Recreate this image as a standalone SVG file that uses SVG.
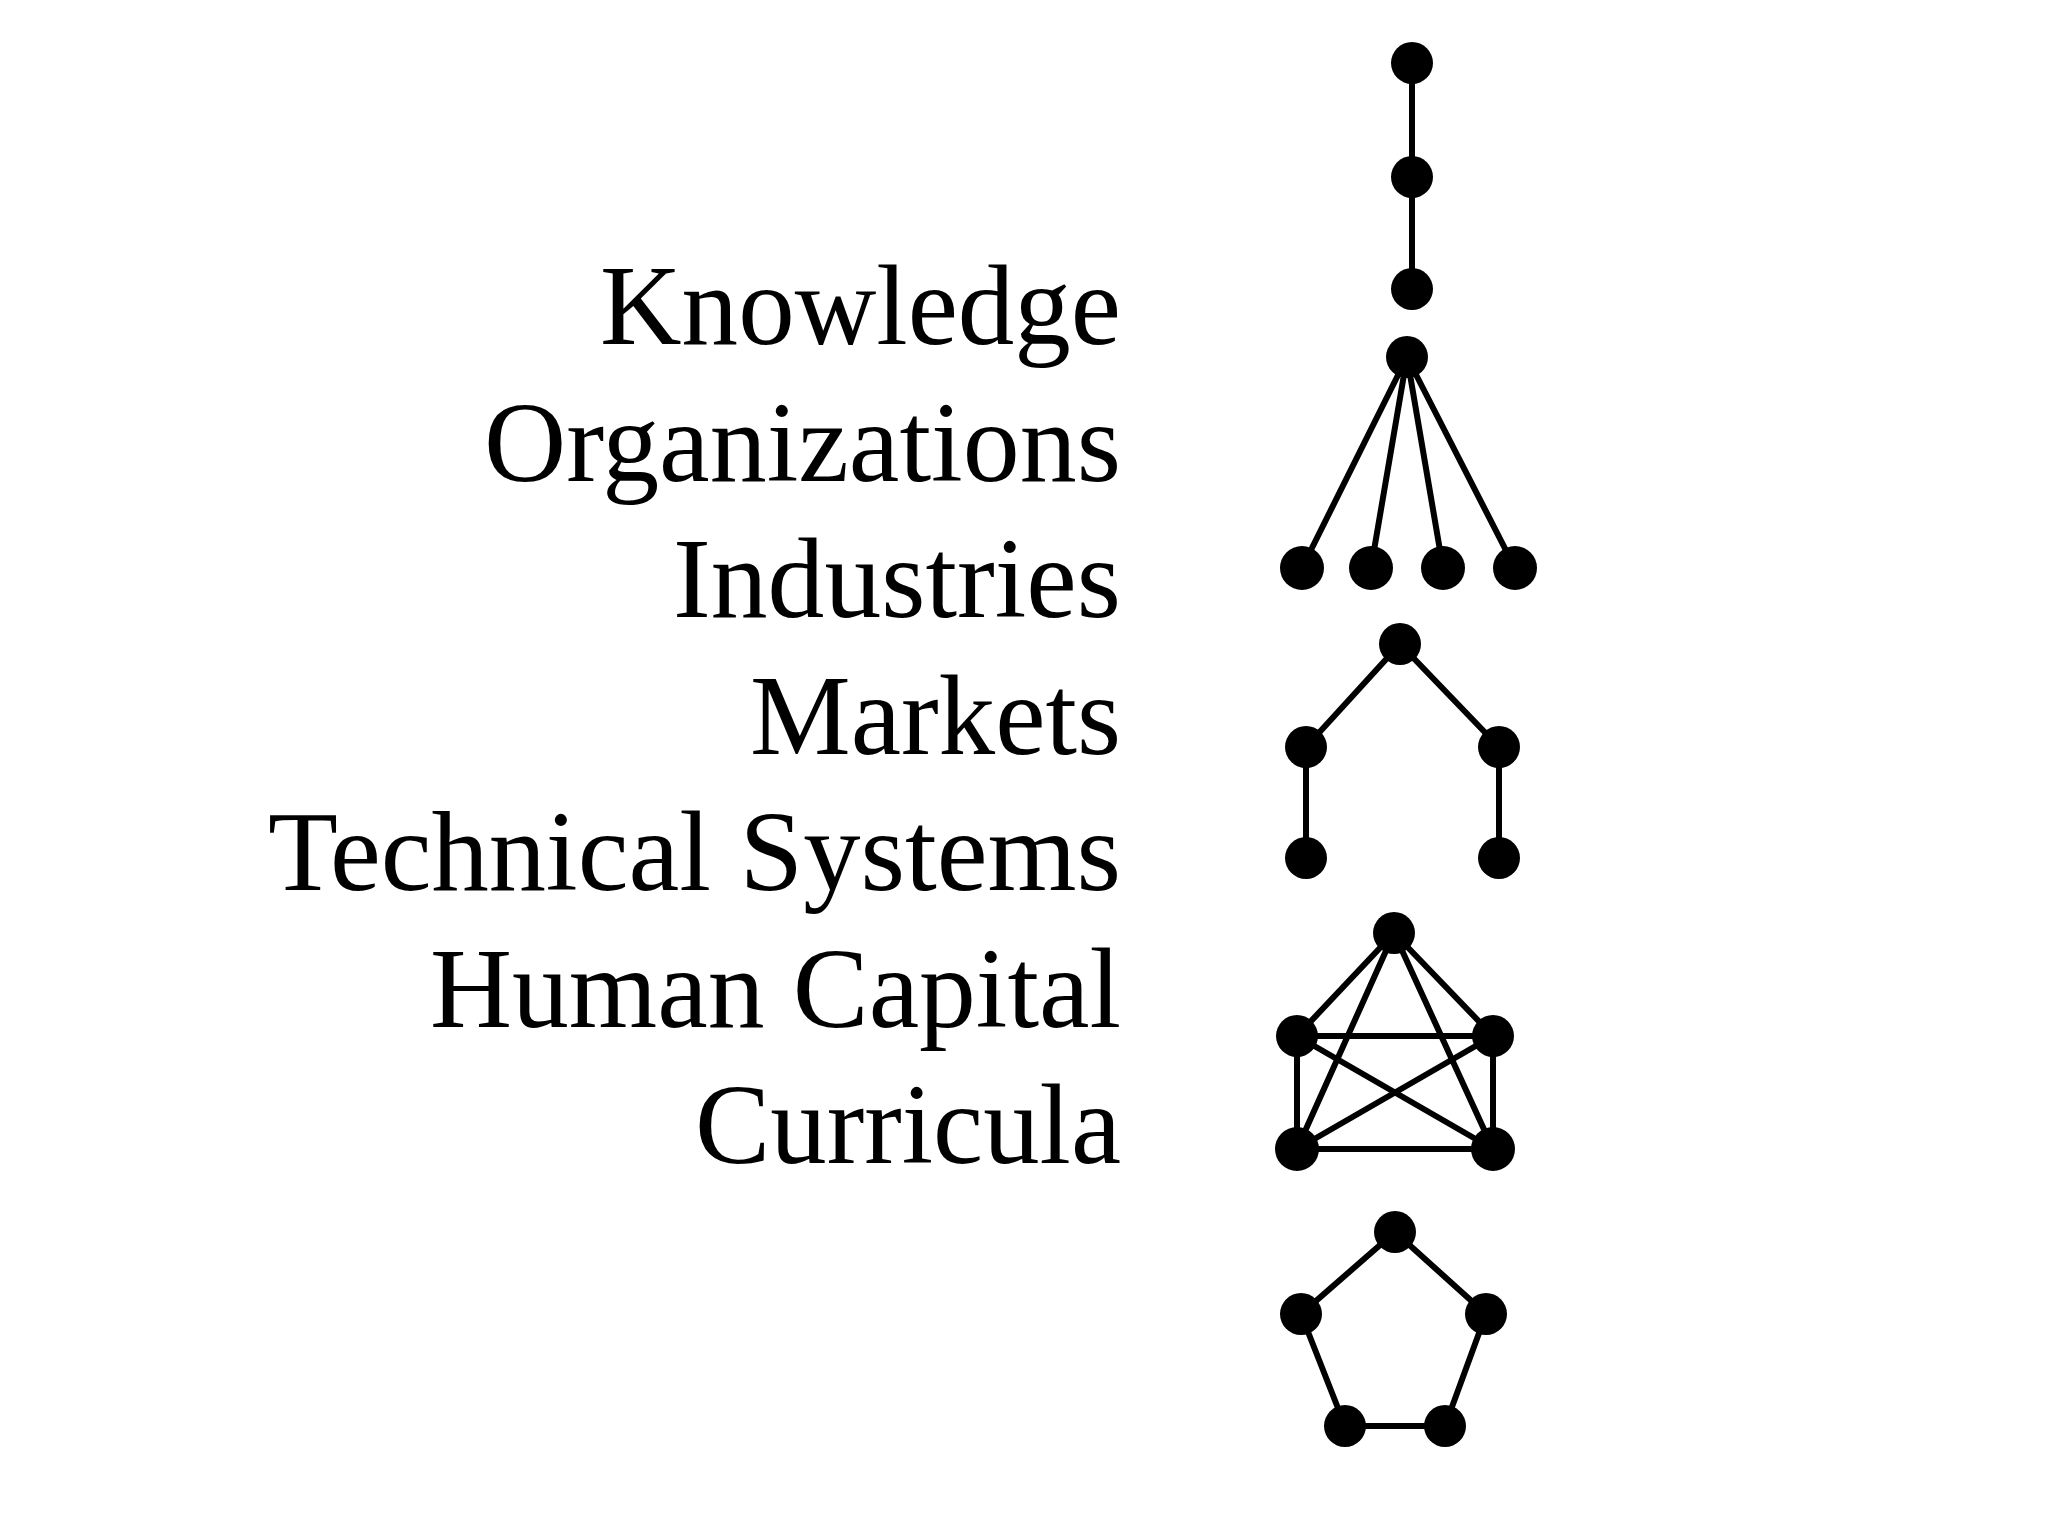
<svg xmlns="http://www.w3.org/2000/svg" width="2048" height="1536" viewBox="0 0 2048 1536">
<style>
.lbl{font-family:"Liberation Serif","Times New Roman",serif;font-size:115px;fill:#000;text-anchor:end}
.e{stroke:#000;stroke-width:6;stroke-linecap:round;fill:none}
.n{fill:#000}
</style>
<rect width="2048" height="1536" fill="#fff"/>
<g id="labels">
<text class="lbl" x="1121" y="344" textLength="521" lengthAdjust="spacingAndGlyphs">Knowledge</text>
<text class="lbl" x="1121" y="481" textLength="637" lengthAdjust="spacingAndGlyphs">Organizations</text>
<text class="lbl" x="1121" y="617" textLength="448" lengthAdjust="spacingAndGlyphs">Industries</text>
<text class="lbl" x="1121" y="754" textLength="371" lengthAdjust="spacingAndGlyphs">Markets</text>
<text class="lbl" x="1121" y="890" textLength="853" lengthAdjust="spacingAndGlyphs">Technical Systems</text>
<text class="lbl" x="1121" y="1027" textLength="691" lengthAdjust="spacingAndGlyphs">Human Capital</text>
<text class="lbl" x="1121" y="1163" textLength="426" lengthAdjust="spacingAndGlyphs">Curricula</text>
</g>
<g id="connectors">
<line class="e" x1="1412" y1="63" x2="1412" y2="177"/>
<line class="e" x1="1412" y1="177" x2="1412" y2="289"/>
<line class="e" x1="1407" y1="357" x2="1302" y2="568"/>
<line class="e" x1="1407" y1="357" x2="1371" y2="568"/>
<line class="e" x1="1407" y1="357" x2="1443" y2="568"/>
<line class="e" x1="1407" y1="357" x2="1515" y2="568"/>
<line class="e" x1="1400" y1="644" x2="1306" y2="747"/>
<line class="e" x1="1400" y1="644" x2="1499" y2="747"/>
<line class="e" x1="1306" y1="747" x2="1306" y2="858"/>
<line class="e" x1="1499" y1="747" x2="1499" y2="858"/>
<line class="e" x1="1394" y1="933" x2="1297" y2="1036"/>
<line class="e" x1="1394" y1="933" x2="1493" y2="1036"/>
<line class="e" x1="1394" y1="933" x2="1297" y2="1149"/>
<line class="e" x1="1394" y1="933" x2="1493" y2="1149"/>
<line class="e" x1="1297" y1="1036" x2="1493" y2="1036"/>
<line class="e" x1="1297" y1="1036" x2="1297" y2="1149"/>
<line class="e" x1="1493" y1="1036" x2="1493" y2="1149"/>
<line class="e" x1="1297" y1="1036" x2="1493" y2="1149"/>
<line class="e" x1="1493" y1="1036" x2="1297" y2="1149"/>
<line class="e" x1="1297" y1="1149" x2="1493" y2="1149"/>
<line class="e" x1="1395" y1="1232" x2="1301" y2="1314"/>
<line class="e" x1="1395" y1="1232" x2="1486" y2="1314"/>
<line class="e" x1="1301" y1="1314" x2="1345" y2="1426"/>
<line class="e" x1="1486" y1="1314" x2="1445" y2="1426"/>
<line class="e" x1="1345" y1="1426" x2="1445" y2="1426"/>
</g>
<g id="chain">
<circle class="n" cx="1412" cy="63" r="21"/>
<circle class="n" cx="1412" cy="177" r="21"/>
<circle class="n" cx="1412" cy="289" r="21"/>
</g>
<g id="star">
<circle class="n" cx="1407" cy="357" r="21"/>
<circle class="n" cx="1302" cy="568" r="22"/>
<circle class="n" cx="1371" cy="568" r="22"/>
<circle class="n" cx="1443" cy="568" r="22"/>
<circle class="n" cx="1515" cy="568" r="22"/>
</g>
<g id="tree">
<circle class="n" cx="1400" cy="644" r="21"/>
<circle class="n" cx="1306" cy="747" r="21"/>
<circle class="n" cx="1499" cy="747" r="21"/>
<circle class="n" cx="1306" cy="858" r="21"/>
<circle class="n" cx="1499" cy="858" r="21"/>
</g>
<g id="complete">
<circle class="n" cx="1394" cy="933" r="21"/>
<circle class="n" cx="1297" cy="1036" r="21"/>
<circle class="n" cx="1493" cy="1036" r="21"/>
<circle class="n" cx="1297" cy="1149" r="22"/>
<circle class="n" cx="1493" cy="1149" r="22"/>
</g>
<g id="ring">
<circle class="n" cx="1395" cy="1232" r="21"/>
<circle class="n" cx="1301" cy="1314" r="21"/>
<circle class="n" cx="1486" cy="1314" r="21"/>
<circle class="n" cx="1345" cy="1426" r="21"/>
<circle class="n" cx="1445" cy="1426" r="21"/>
</g>
</svg>
